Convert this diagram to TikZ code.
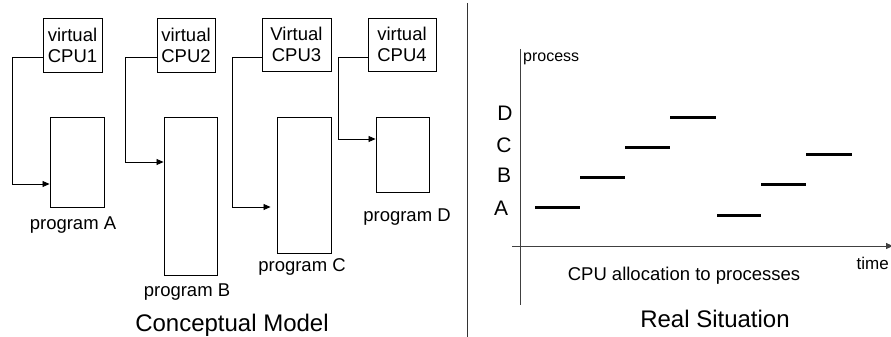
\documentclass[tikz,border=0pt]{standalone}
\usepackage{fontspec}
\setmainfont{Liberation Sans}
\usetikzlibrary{arrows.meta}
\tikzset{
  x=1pt, y=-1pt,
  cpubox/.style={draw, line width=0.9pt, inner sep=0pt, align=center, font=\fontsize{18.5}{21}\selectfont},
  progbox/.style={draw, line width=0.9pt, inner sep=0pt},
  lbl/.style={inner sep=0pt, font=\fontsize{18.5}{21}\selectfont},
  ttl/.style={inner sep=0pt, font=\fontsize{24}{28}\selectfont},
  conn/.style={line width=0.8pt, -{Triangle[length=7pt,width=6pt]}},
  axis/.style={line width=0.8pt, black!75},
  bar/.style={line width=3pt},
}
\begin{document}
\begin{tikzpicture}
\useasboundingbox (0,0) rectangle (891,337);
% CPU boxes
\node[cpubox, minimum width=59pt, minimum height=54pt] (cpu1) at (72.5,45) {virtual\\CPU1};
\node[cpubox, minimum width=58pt, minimum height=54pt] (cpu2) at (186,45) {virtual\\CPU2};
\node[cpubox, minimum width=69pt, minimum height=53pt] (cpu3) at (296.5,44.5) {Virtual\\CPU3};
\node[cpubox, minimum width=68pt, minimum height=53pt] (cpu4) at (402,44.5) {virtual\\CPU4};
% program boxes
\node[progbox, minimum width=54pt, minimum height=90pt] (progA) at (77,162) {};
\node[progbox, minimum width=53pt, minimum height=158pt] (progB) at (190.5,196) {};
\node[progbox, minimum width=54pt, minimum height=136pt] (progC) at (304,185) {};
\node[progbox, minimum width=53pt, minimum height=75pt] (progD) at (402.5,154.5) {};
% connectors
\draw[conn] ([yshift=-12pt]cpu1.west) -- ++(-30,0) |- ([yshift=-22pt]progA.west);
\draw[conn] ([yshift=-12pt]cpu2.west) -- ++(-31,0) |- ([yshift=34pt]progB.west);
\draw[conn, shorten >=6pt] ([yshift=-12.5pt]cpu3.west) -- ++(-29,0) |- ([yshift=-22pt]progC.west);
\draw[conn] ([yshift=-12.5pt]cpu4.west) -- ++(-29,0) |- ([yshift=15.5pt]progD.west);
% program labels
\node[lbl] (lA) at (73,225) {program A};
\node[lbl] (lB) at (187,292) {program B};
\node[lbl] (lC) at (302,267) {program C};
\node[lbl] (lD) at (407,217) {program D};
\node[ttl] (cm) at (232,325) {Conceptual Model};
% divider
\coordinate (divtop) at (467,3);
\coordinate (divbot) at (467,337);
\draw[line width=0.9pt, black!80] (divtop) -- (divbot);
% axes
\coordinate (ytop) at (520,49);
\coordinate (ybot) at (520,305);
\coordinate (xl) at (512,246);
\coordinate (xr) at (893,246);
\draw[axis] (ytop) -- (ybot);
\draw[axis, -{Triangle[length=7pt,width=6pt]}] (xl) -- (xr);
\node[inner sep=0pt, anchor=west, font=\fontsize{16}{18}\selectfont] (proc) at (523,59) {process};
\node[inner sep=0pt, font=\fontsize{21}{24}\selectfont] (D) at (505,113) {D};
\node[inner sep=0pt, font=\fontsize{21}{24}\selectfont] (C) at (504,145) {C};
\node[inner sep=0pt, font=\fontsize{21}{24}\selectfont] (B) at (504,175) {B};
\node[inner sep=0pt, font=\fontsize{21}{24}\selectfont] (A) at (501,208) {A};
% bars
\draw[bar] (535,207) -- (580,207);
\draw[bar] (580,177) -- (625,177);
\draw[bar] (625,147) -- (670,147);
\draw[bar] (670,117) -- (716,117);
\draw[bar] (717,215) -- (761,215);
\draw[bar] (761,184) -- (806,184);
\draw[bar] (806,154) -- (852,154);
\node[lbl, anchor=east, font=\fontsize{17}{20}\selectfont] (time) at (889,263) {time};
\node[lbl] (alloc) at (684,276) {CPU allocation to processes};
\node[ttl] (rs) at (715,319) {Real Situation};
\end{tikzpicture}
\end{document}
